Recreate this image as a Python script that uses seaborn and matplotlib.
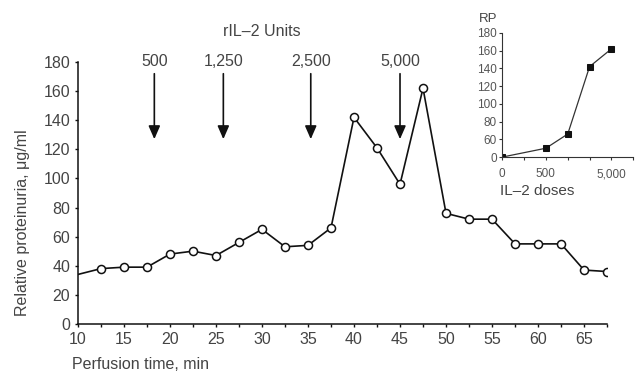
import numpy as np
import seaborn as sns
from matplotlib import pyplot as plt

# main series: perfusion time (min) vs relative proteinuria (ug/ml)
time_min = [10, 12.5, 15, 17.5, 20, 22.5, 25, 27.5, 30, 32.5, 35, 37.5, 40,
            42.5, 45, 47.5, 50, 52.5, 55, 57.5, 60, 62.5, 65, 67.5]
proteinuria = [34, 38, 39, 39, 48, 50, 47, 56, 65, 53, 54, 66, 142,
               121, 96, 162, 76, 72, 72, 55, 55, 55, 37, 36]

# rIL-2 dose arrows
dose_times = [18.3, 25.8, 35.3, 45.0]
dose_labels = ['500', '1,250', '2,500', '5,000']

# inset: RP vs IL-2 dose (x drawn on slot positions of the original axis)
inset_slot = [0, 2, 3, 4, 5]
inset_rp = [40, 50, 66, 142, 162]
inset_xticks = [0, 1, 2, 3, 4, 5, 6]
inset_xlabels = ['0', '', '500', '', '', '5,000', '']
inset_yticks = [40, 60, 80, 100, 120, 140, 160, 180]
inset_ylabels = ['0', '60', '80', '100', '120', '140', '160', '180']

sns.set_style('white')
plt.rcParams['font.family'] = ['Liberation Sans', 'DejaVu Sans']
ink = '#444444'

fig = plt.figure(figsize=(6.39, 3.74), dpi=100)
ax = fig.add_axes([0.122, 0.134, 0.828, 0.700])

sns.lineplot(x=time_min, y=proteinuria, ax=ax, color='#111111', lw=1.2)
ax.plot(time_min[1:], proteinuria[1:], ls='none', marker='o', ms=5.8,
        mfc='white', mec='#111111', mew=1.1)

ax.set_xlim(10, 67.5)
ax.set_ylim(0, 180)
ax.set_xticks(np.arange(10, 67.6, 2.5))
ax.set_xticklabels([str(int(t)) if t % 5 == 0 and t < 67 else '' for t in np.arange(10, 67.6, 2.5)])
ax.set_yticks(range(0, 181, 20))
for s in ['top', 'right']:
    ax.spines[s].set_visible(False)
for s in ['left', 'bottom']:
    ax.spines[s].set_color('#111111')
    ax.spines[s].set_linewidth(1.1)
ax.tick_params(axis='both', direction='out', length=2.5, width=1, color='#111111',
               labelsize=11.5, labelcolor=ink, pad=3, bottom=True, left=True)

ax.set_xlabel('Perfusion time, min', fontsize=11.5, color=ink)
ax.xaxis.set_label_coords(-0.011, -0.125)
ax.xaxis.label.set_horizontalalignment('left')
ax.set_ylabel('Relative proteinuria, \u03bcg/ml', fontsize=11.5, color=ink)
ax.yaxis.set_label_coords(-0.09, 0.385)

for t, lab in zip(dose_times, dose_labels):
    ax.annotate('', xy=(t, 127), xytext=(t, 172),
                arrowprops=dict(arrowstyle='-|>,head_length=0.8,head_width=0.35',
                                color='#111111', lw=1.2, shrinkA=0, shrinkB=0))
    ax.text(t, 175, lab, ha='center', va='bottom', fontsize=11.5, color=ink)

ax.text(30, 196, 'rIL\u20132 Units', ha='center', va='bottom', fontsize=11.5,
        color=ink, clip_on=False)

# inset
ins = fig.add_axes([0.786, 0.580, 0.205, 0.332])
sns.lineplot(x=inset_slot, y=inset_rp, ax=ins, color='#333333', lw=0.9,
             marker='s', ms=5, mfc='#111111', mec='#111111')
ins.set_xlim(0, 6)
ins.set_ylim(40, 180)
ins.set_xticks(inset_xticks)
ins.set_xticklabels(inset_xlabels)
ins.set_yticks(inset_yticks)
ins.set_yticklabels(inset_ylabels)
for s in ['top', 'right']:
    ins.spines[s].set_visible(False)
for s in ['left', 'bottom']:
    ins.spines[s].set_color('#333333')
    ins.spines[s].set_linewidth(0.8)
ins.tick_params(axis='both', direction='out', length=2, width=0.8, color='#333333',
                labelsize=8.5, labelcolor='#555555', pad=2, bottom=True, left=True)
ins.tick_params(axis='x', pad=6)
ins.set_facecolor('none')
ins.text(-0.18, 1.06, 'RP', transform=ins.transAxes, fontsize=9.5, color=ink,
         ha='left', va='bottom')
ins.set_xlabel('IL\u20132 doses', fontsize=11, color=ink)
ins.xaxis.set_label_coords(-0.02, -0.22)
ins.xaxis.label.set_horizontalalignment('left')

fig.savefig('out.png', dpi=100)
